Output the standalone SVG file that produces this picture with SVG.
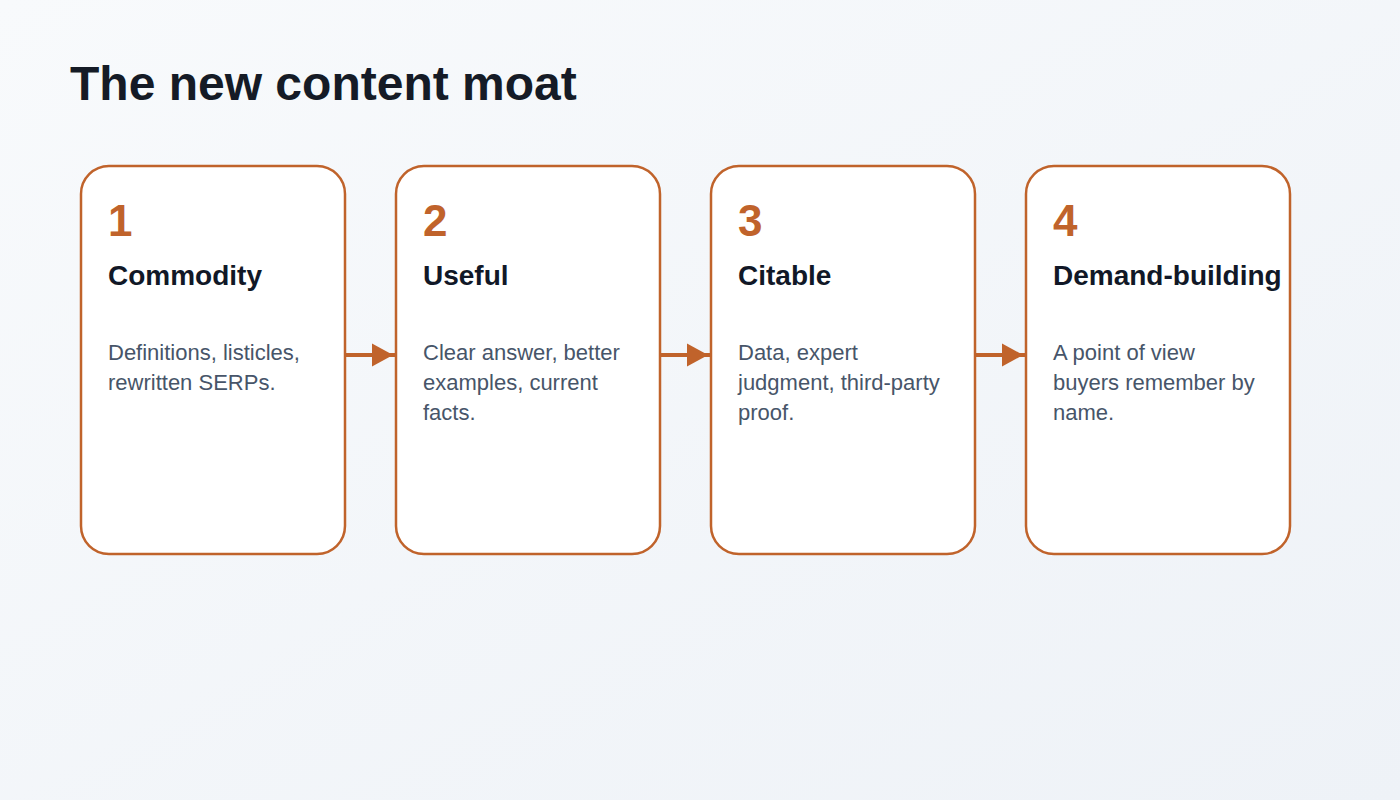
<svg xmlns="http://www.w3.org/2000/svg" width="1400" height="800" viewBox="0 0 1400 800">
  <defs>
    <linearGradient id="bg" x1="0" y1="0" x2="1" y2="1">
      <stop offset="0" stop-color="#f8fafc"/>
      <stop offset="1" stop-color="#eef2f7"/>
    </linearGradient>
    <marker id="arrow" markerUnits="userSpaceOnUse" markerWidth="24" markerHeight="24" refX="25" refY="12" orient="auto" viewBox="0 0 25 24">
      <path d="M0,0 L22,12 L0,24 Z" fill="#c0632b"/>
    </marker>
    <style>
      .card { fill: #ffffff; stroke: #c0632b; stroke-width: 2.5; }
      .num { font-family: "Liberation Sans", Arial, sans-serif; font-weight: bold; font-size: 44px; fill: #c0632b; }
      .title { font-family: "Liberation Sans", Arial, sans-serif; font-weight: bold; font-size: 28px; fill: #111827; }
      .desc { font-family: "Liberation Sans", Arial, sans-serif; font-size: 22px; fill: #475569; }
      .conn { stroke: #c0632b; stroke-width: 4; fill: none; }
    </style>
  </defs>
  <rect x="0" y="0" width="1400" height="800" fill="url(#bg)"/>
  <text x="70" y="100" font-family="Liberation Sans, Arial, sans-serif" font-weight="bold" font-size="48" fill="#151b26">The new content moat</text>

  <g id="connectors">
    <line class="conn" x1="345" y1="355" x2="396" y2="355" marker-end="url(#arrow)"/>
    <line class="conn" x1="660" y1="355" x2="711" y2="355" marker-end="url(#arrow)"/>
    <line class="conn" x1="975" y1="355" x2="1026" y2="355" marker-end="url(#arrow)"/>
  </g>

  <g id="node1">
    <rect class="card" x="81" y="166" width="264" height="388" rx="28"/>
    <text class="num" x="108" y="236">1</text>
    <text class="title" x="108" y="285">Commodity</text>
    <text class="desc" x="108" y="360">Definitions, listicles,</text>
    <text class="desc" x="108" y="390">rewritten SERPs.</text>
  </g>
  <g id="node2">
    <rect class="card" x="396" y="166" width="264" height="388" rx="28"/>
    <text class="num" x="423" y="236">2</text>
    <text class="title" x="423" y="285">Useful</text>
    <text class="desc" x="423" y="360">Clear answer, better</text>
    <text class="desc" x="423" y="390">examples, current</text>
    <text class="desc" x="423" y="420">facts.</text>
  </g>
  <g id="node3">
    <rect class="card" x="711" y="166" width="264" height="388" rx="28"/>
    <text class="num" x="738" y="236">3</text>
    <text class="title" x="738" y="285">Citable</text>
    <text class="desc" x="738" y="360">Data, expert</text>
    <text class="desc" x="738" y="390">judgment, third-party</text>
    <text class="desc" x="738" y="420">proof.</text>
  </g>
  <g id="node4">
    <rect class="card" x="1026" y="166" width="264" height="388" rx="28"/>
    <text class="num" x="1053" y="236">4</text>
    <text class="title" x="1053" y="285">Demand-building</text>
    <text class="desc" x="1053" y="360">A point of view</text>
    <text class="desc" x="1053" y="390">buyers remember by</text>
    <text class="desc" x="1053" y="420">name.</text>
  </g>
</svg>
